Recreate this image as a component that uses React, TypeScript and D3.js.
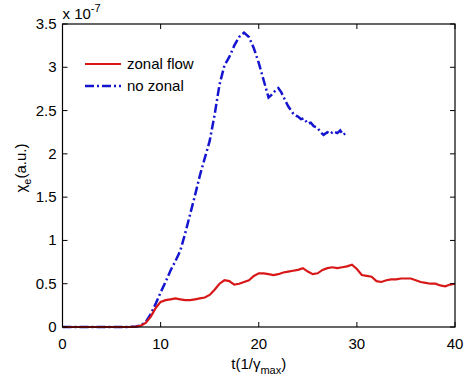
import React, { useEffect, useRef } from "react";
import * as d3 from "d3";

// zonal flow (red solid)
const zonalT = [0, 2, 4, 6, 7, 7.5, 8, 8.5, 9, 9.5, 10, 10.5, 11, 11.5, 12, 12.5, 13, 13.5, 14, 14.5, 15, 15.5, 16, 16.5, 17, 17.5, 18, 18.5, 19, 19.5, 20, 20.5, 21, 21.5, 22, 22.5, 23, 23.5, 24, 24.5, 25, 25.5, 26, 26.5, 27, 27.5, 28, 28.5, 29, 29.5, 30, 30.5, 31, 31.5, 32, 32.5, 33, 33.5, 34, 34.5, 35, 35.5, 36, 36.5, 37, 37.5, 38, 38.5, 39, 39.5, 40];
const zonalV = [0, 0, 0, 0, 0.002, 0.005, 0.015, 0.05, 0.12, 0.22, 0.29, 0.31, 0.32, 0.33, 0.32, 0.31, 0.31, 0.32, 0.33, 0.34, 0.37, 0.43, 0.5, 0.54, 0.53, 0.49, 0.5, 0.52, 0.54, 0.59, 0.62, 0.62, 0.61, 0.6, 0.61, 0.63, 0.64, 0.65, 0.66, 0.68, 0.64, 0.61, 0.62, 0.66, 0.68, 0.69, 0.68, 0.69, 0.7, 0.72, 0.67, 0.6, 0.59, 0.58, 0.53, 0.52, 0.54, 0.55, 0.55, 0.56, 0.56, 0.56, 0.54, 0.52, 0.51, 0.5, 0.5, 0.48, 0.47, 0.49, 0.5];

// no zonal (blue dash-dot)
const noZonalT = [0, 2, 4, 6, 7, 7.5, 8, 8.5, 9, 9.5, 10, 10.5, 11, 11.5, 12, 12.5, 13, 13.5, 14, 14.5, 15, 15.5, 16, 16.5, 17, 17.5, 18, 18.5, 19, 19.5, 20, 20.5, 21, 21.3, 21.6, 22, 22.3, 22.6, 23, 23.3, 23.6, 24, 24.3, 24.6, 25, 25.3, 25.6, 26, 26.3, 26.6, 27, 27.3, 27.6, 28, 28.3, 28.6, 29];
const noZonalV = [0, 0, 0, 0, 0.002, 0.006, 0.02, 0.06, 0.15, 0.27, 0.4, 0.52, 0.65, 0.76, 0.88, 1.08, 1.3, 1.52, 1.75, 1.95, 2.15, 2.45, 2.8, 3.02, 3.12, 3.25, 3.35, 3.4, 3.35, 3.22, 3.05, 2.85, 2.65, 2.68, 2.72, 2.76, 2.71, 2.64, 2.55, 2.5, 2.45, 2.43, 2.4, 2.41, 2.35, 2.36, 2.32, 2.3, 2.25, 2.22, 2.25, 2.23, 2.26, 2.24, 2.27, 2.22, 2.25];

const xTicks = [0, 10, 20, 30, 40];
const yTicks = [0, 0.5, 1, 1.5, 2, 2.5, 3, 3.5];

const Chart = () => {
  const ref = useRef<HTMLDivElement>(null);

  useEffect(() => {
    if (!ref.current) return;
    const width = 465;
    const height = 384;
    const margin = { top: 24, right: 10, bottom: 57, left: 62.5 };
    const iw = width - margin.left - margin.right;
    const ih = height - margin.top - margin.bottom;
    const font = "Liberation Sans, Arial, sans-serif";

    d3.select(ref.current).selectAll("*").remove();

    const svg = d3
      .select(ref.current)
      .append("svg")
      .attr("width", width)
      .attr("height", height)
      .style("display", "block");

    svg.append("rect").attr("width", width).attr("height", height).attr("fill", "#fff");

    const g = svg.append("g").attr("transform", `translate(${margin.left}, ${margin.top})`);

    const x = d3.scaleLinear().domain([0, 40]).range([0, iw]);
    const y = d3.scaleLinear().domain([0, 3.5]).range([ih, 0]);

    // data lines
    const line = d3
      .line<[number, number]>()
      .x((d) => x(d[0]))
      .y((d) => y(d[1]));

    const blue = noZonalT.map((t, i) => [t, noZonalV[i]] as [number, number]);
    const red = zonalT.map((t, i) => [t, zonalV[i]] as [number, number]);

    g.append("path")
      .datum(blue)
      .attr("fill", "none")
      .attr("stroke", "#1515d0")
      .attr("stroke-width", 2.5)
      .attr("stroke-dasharray", "9,3,2,3")
      .attr("d", line);

    g.append("path")
      .datum(red)
      .attr("fill", "none")
      .attr("stroke", "#d81818")
      .attr("stroke-width", 2.2)
      .attr("d", line);

    // box and ticks
    g.append("rect")
      .attr("width", iw)
      .attr("height", ih)
      .attr("fill", "none")
      .attr("stroke", "#000")
      .attr("stroke-width", 1.2);

    const tl = 5;
    xTicks.forEach((t) => {
      g.append("line").attr("x1", x(t)).attr("x2", x(t)).attr("y1", ih).attr("y2", ih - tl).attr("stroke", "#000");
      g.append("line").attr("x1", x(t)).attr("x2", x(t)).attr("y1", 0).attr("y2", tl).attr("stroke", "#000");
      g.append("text")
        .attr("x", x(t))
        .attr("y", ih + 22)
        .attr("text-anchor", "middle")
        .style("font-family", font)
        .style("font-size", "15px")
        .text(t);
    });
    yTicks.forEach((t) => {
      g.append("line").attr("x1", 0).attr("x2", tl).attr("y1", y(t)).attr("y2", y(t)).attr("stroke", "#000");
      g.append("line").attr("x1", iw).attr("x2", iw - tl).attr("y1", y(t)).attr("y2", y(t)).attr("stroke", "#000");
      g.append("text")
        .attr("x", -6)
        .attr("y", y(t) + 5)
        .attr("text-anchor", "end")
        .style("font-family", font)
        .style("font-size", "15px")
        .text(t);
    });

    // exponent
    const ex = svg
      .append("text")
      .attr("x", margin.left)
      .attr("y", 19)
      .style("font-family", font)
      .style("font-size", "15px");
    ex.append("tspan").text("x 10");
    ex.append("tspan").attr("dy", -7).style("font-size", "11px").text("-7");

    // x label
    const xl = svg
      .append("text")
      .attr("x", margin.left + iw / 2)
      .attr("y", 369)
      .attr("text-anchor", "middle")
      .style("font-family", font)
      .style("font-size", "15px");
    xl.append("tspan").text("t(1/γ");
    xl.append("tspan").attr("dy", 5).style("font-size", "11px").text("max");
    xl.append("tspan").attr("dy", -5).text(")");

    // y label
    const yl = svg
      .append("text")
      .attr("transform", `translate(26, 168) rotate(-90)`)
      .attr("text-anchor", "middle")
      .style("font-family", font)
      .style("font-size", "15px");
    yl.append("tspan").text("χ");
    yl.append("tspan").attr("dy", 5).style("font-size", "11px").text("e");
    yl.append("tspan").attr("dy", -5).text("(a.u.)");

    // legend
    const lg = svg.append("g").attr("transform", "translate(85, 0)");
    lg.append("line").attr("x1", 0).attr("x2", 36).attr("y1", 64).attr("y2", 64).attr("stroke", "#d81818").attr("stroke-width", 2.2);
    lg.append("text").attr("x", 42).attr("y", 69).style("font-family", font).style("font-size", "15px").text("zonal flow");
    lg.append("line")
      .attr("x1", 0)
      .attr("x2", 36)
      .attr("y1", 86)
      .attr("y2", 86)
      .attr("stroke", "#1515d0")
      .attr("stroke-width", 2.5)
      .attr("stroke-dasharray", "9,3,2,3");
    lg.append("text").attr("x", 42).attr("y", 91).style("font-family", font).style("font-size", "15px").text("no zonal");
  }, []);

  return <div ref={ref}></div>;
};

export default function App() {
  return (
    <div style={{ position: "absolute", left: 0, top: 0 }}>
      <Chart />
    </div>
  );
}
